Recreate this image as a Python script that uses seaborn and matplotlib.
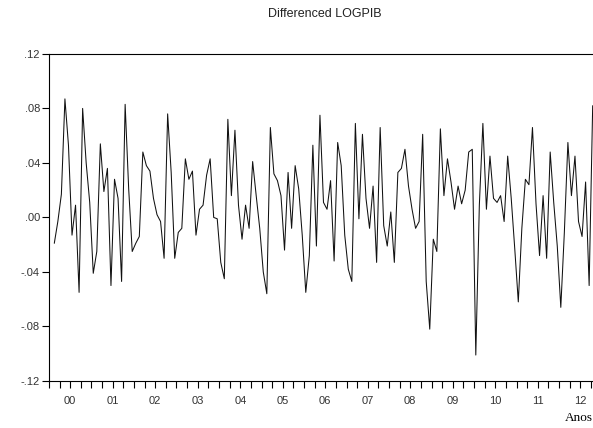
import numpy as np
import pandas as pd
import matplotlib
matplotlib.use("Agg")
import matplotlib.pyplot as plt
import seaborn as sns
from matplotlib.ticker import FixedLocator, FuncFormatter

# monthly differenced log GDP, first observation 2000M02
start_month = "2000-02"
dlogpib = [
    -0.019, -0.003, 0.017, 0.087, 0.053, -0.013, 0.009, -0.055, 0.080, 0.040,
    0.011, -0.041, -0.025, 0.054, 0.019, 0.036, -0.050, 0.028, 0.014, -0.047,
    0.083, 0.021, -0.025, -0.019, -0.014, 0.048, 0.038, 0.034, 0.014, 0.002,
    -0.003, -0.030, 0.076, 0.033, -0.030, -0.011, -0.008, 0.043, 0.028, 0.034,
    -0.013, 0.006, 0.009, 0.031, 0.043, 0.000, -0.001, -0.033, -0.045, 0.072,
    0.016, 0.064, 0.009, -0.016, 0.009, -0.008, 0.041, 0.016, -0.008, -0.040,
    -0.056, 0.066, 0.032, 0.027, 0.016, -0.024, 0.033, -0.008, 0.038, 0.021,
    -0.013, -0.055, -0.028, 0.053, -0.021, 0.075, 0.011, 0.006, 0.027, -0.032,
    0.055, 0.038, -0.013, -0.038, -0.047, 0.069, -0.001, 0.061, 0.014, -0.008,
    0.023, -0.033, 0.066, -0.006, -0.021, 0.004, -0.033, 0.033, 0.036, 0.050,
    0.023, 0.006, -0.008, -0.003, 0.061, -0.047, -0.082, -0.016, -0.025, 0.065,
    0.016, 0.043, 0.026, 0.006, 0.023, 0.010, 0.020, 0.048, 0.050, -0.101,
    0.009, 0.069, 0.006, 0.045, 0.014, 0.011, 0.016, -0.003, 0.045, 0.014,
    -0.023, -0.062, -0.008, 0.028, 0.024, 0.066, 0.010, -0.028, 0.016, -0.030,
    0.048, 0.011, -0.021, -0.066, -0.011, 0.055, 0.016, 0.045, -0.003, -0.014,
    0.026, -0.050, 0.082,
]
years = list(range(2000, 2013))
year_labels = ["00", "01", "02", "03", "04", "05", "06", "07", "08", "09", "10", "11", "12"]
y_ticks = [-0.12, -0.08, -0.04, 0.00, 0.04, 0.08, 0.12]

dates = pd.date_range(start_month, periods=len(dlogpib), freq="MS")
df = pd.DataFrame({"date": dates, "dlogpib": dlogpib})
df["t"] = df["date"].dt.year + (df["date"].dt.month - 0.5) / 12

sns.set_style("white")
plt.rcParams["font.family"] = ["Liberation Sans", "DejaVu Sans"]

fig = plt.figure(figsize=(5.93, 4.28), dpi=100)
# the frame runs past the right edge of the picture, as in the original
ax = fig.add_axes([0.0826, 0.110, 0.9318, 0.764])
sns.lineplot(data=df, x="t", y="dlogpib", color="#111111", linewidth=0.75, ax=ax)

ax.set_xlim(years[0], years[-1] + 1)
ax.set_ylim(-0.12, 0.12)

ax.xaxis.set_major_locator(FixedLocator([y + 0.5 for y in years]))
ax.set_xticklabels(year_labels)
ax.xaxis.set_minor_locator(FixedLocator(np.arange(years[0], years[-1] + 1.01, 0.25)))
ax.set_yticks(y_ticks)
ax.yaxis.set_major_formatter(FuncFormatter(lambda v, p: f"{v:.2f}".replace("0.", ".")))

ax.tick_params(axis="both", which="both", direction="out", length=5, width=0.8,
               color="black", labelsize=8, labelcolor="#333333",
               bottom=True, left=True, top=False, right=False)
ax.tick_params(axis="x", which="major", pad=5.5)
ax.tick_params(axis="y", which="major", pad=1.5)
for s in ax.spines.values():
    s.set_color("black")
    s.set_linewidth(0.8)

ax.set_xlabel("")
ax.set_ylabel("")

fig.text(0.548, 1 - 14 / 428, "Differenced LOGPIB", ha="center", va="center",
         fontsize=9, color="#222222")
fig.text(0.999, 1 - 418 / 428, "Anos", ha="right", va="center", fontsize=9.5,
         family=["Liberation Serif", "DejaVu Serif"], color="black")

fig.savefig("out.png", dpi=100)
